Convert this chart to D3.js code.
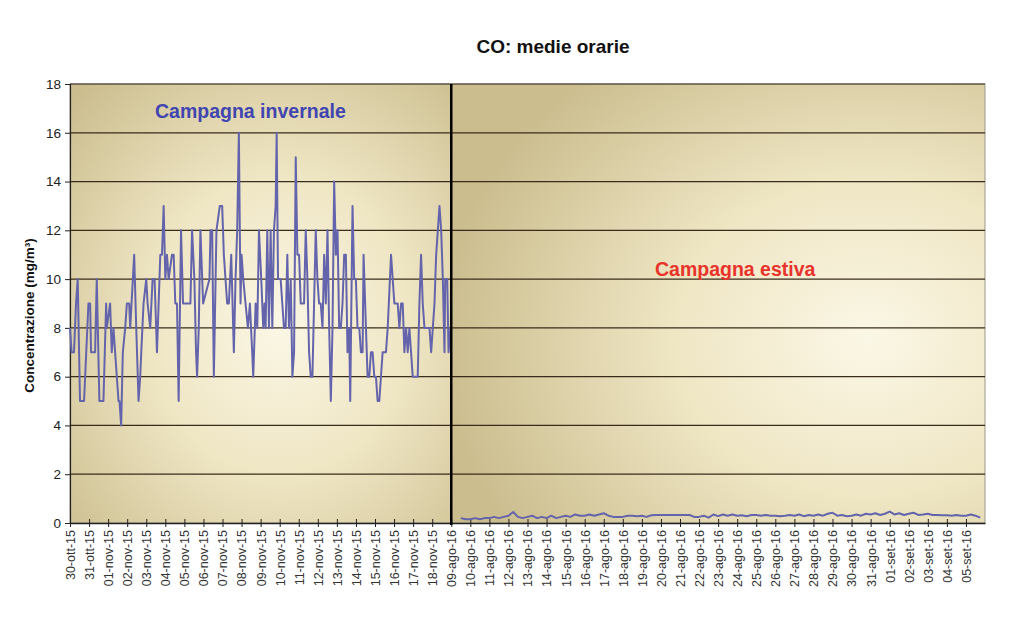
<!DOCTYPE html>
<html><head><meta charset="utf-8">
<script src="https://cdn.jsdelivr.net/npm/d3@7/dist/d3.min.js"></script>
<style>body{margin:0;background:#fff}svg{display:block}</style>
</head><body><svg id="c" width="1024" height="624"></svg>
<script>
// ---- data ----
const title = "CO: medie orarie";
const yTitle = "Concentrazione (mg/m³)";
const winterLabel = "Campagna invernale";
const summerLabel = "Campagna estiva";
const tickLabels = [
  "30-ott-15","31-ott-15","01-nov-15","02-nov-15","03-nov-15","04-nov-15","05-nov-15","06-nov-15","07-nov-15","08-nov-15",
  "09-nov-15","10-nov-15","11-nov-15","12-nov-15","13-nov-15","14-nov-15","15-nov-15","16-nov-15","17-nov-15","18-nov-15",
  "09-ago-16","10-ago-16","11-ago-16","12-ago-16","13-ago-16","14-ago-16","15-ago-16","16-ago-16","17-ago-16","18-ago-16",
  "19-ago-16","20-ago-16","21-ago-16","22-ago-16","23-ago-16","24-ago-16","25-ago-16","26-ago-16","27-ago-16","28-ago-16",
  "29-ago-16","30-ago-16","31-ago-16","01-set-16","02-set-16","03-set-16","04-set-16","05-set-16"
];
const yTicks = [0,2,4,6,8,10,12,14,16,18];
// winter campaign: hour since 30-ott-15 00:00, hourly mean (mg/m3)
const winterHour = [0,2,5,7.6,9.7,12.6,17.7,23.2,25.3,26.5,31.6,33.7,37,42.1,45.5,46.3,50.5,52.6,54.7,56.8,61.1,62.3,64.4,66.5,69.5,71.6,74.5,75.8,80.8,83.4,86.3,88.4,89.7,92.6,96,97.7,101,104,106.5,109.5,113.7,115.8,117.9,120,122.1,124.2,128.4,130.5,132.6,134.7,136.8,139.8,142.3,151.6,153.7,156.6,158.7,160,162.1,164.2,167.6,175.6,176.9,179,181.1,184.4,188.6,191.6,193.7,195.8,197.9,200,203,206.3,208.4,210.5,212.6,214.7,216,218.1,221,224,226.5,229.4,230.7,233.7,235.8,237.9,
  240.8,243.3,245,246.3,248.4,250.5,252.6,254.7,256.8,258.9,260.2,261.9,265.2,267.3,269.4,271.5,273.6,275.7,277.9,280,282.1,284.2,286.3,288.4,290.5,294.7,296.8,298.9,301,303.1,305.2,307.3,309.4,311.5,313.6,315.7,317.9,320,322.1,324.2,326.3,328.4,330.5,332.6,334.7,336.8,338.9,341,343.1,345.2,347.3,349.4,351.5,352.8,355.7,357.8,359.9,362,364.2,366.3,368.4,369.6,372.6,374.7,376.8,378.9,381,383.1,385.2,387.3,389.4,391.5,393.6,397.8,400,404.2,406.3,408.4,412.6,414.7,416.8,418.9,421,423.1,425.2,427.3,429.4,431.5,437.8,439.9,442,444.1,446.3,452.6,454.7,456.8,458.9,461,463.1,465.2,467.3,469.4,471.5,472.4,474.9,476.6,479.1];
const winterValue = [8,7,7,9,10,5,5,9,9,7,7,10,5,5,9,8,9,7,8,7,5,5,4,7,8,9,9,8,11,8,5,6,7,9,10,9,8,10,10,7,11,11,13,10,11,10,11,11,9,9,5,12,9,9,12,10,7,6,8,12,9,10,12,12,6,12,13,13,11,10,9,9,11,7,10,12,16,9,11,10,9,8,9,7,6,9,8,12,
  10,8,9,8,12,8,12,8,12,13,16,10,10,9,8,8,11,8,10,6,7,15,11,11,9,9,12,10,7,6,6,9,12,10,9,9,8,11,9,12,8,5,8,14,11,12,8,8,9,11,11,7,8,5,13,10,10,8,8,7,7,11,8,6,6,7,7,6,6,5,5,6,7,7,8,11,10,9,9,8,9,9,7,8,7,8,7,6,6,9,11,9,8,8,7,8,9,11,12,13,12,10,7,10,10,7,8];
// summer campaign: 6-hourly readings from 09-ago-16 12:00
const summerValue = [
  0.2,0.15,
  0.15,0.2,0.15,0.2,
  0.2,0.25,0.2,0.25,
  0.3,0.45,0.25,0.2,
  0.25,0.3,0.2,0.25,
  0.2,0.3,0.2,0.25,
  0.3,0.25,0.35,0.3,
  0.3,0.35,0.3,0.35,
  0.4,0.3,0.25,0.25,
  0.25,0.3,0.3,0.28,
  0.3,0.25,0.32,0.33,
  0.33,0.33,0.33,0.33,
  0.33,0.33,0.33,0.25,
  0.25,0.3,0.22,0.35,
  0.28,0.35,0.3,0.35,
  0.3,0.32,0.28,0.33,
  0.33,0.3,0.33,0.3,
  0.3,0.28,0.3,0.33,
  0.3,0.35,0.28,0.33,
  0.3,0.35,0.3,0.38,
  0.42,0.3,0.33,0.28,
  0.3,0.35,0.3,0.38,
  0.35,0.4,0.33,0.38,
  0.47,0.35,0.4,0.33,
  0.38,0.42,0.33,0.35,
  0.38,0.33,0.33,0.32,
  0.32,0.3,0.33,0.3,
  0.3,0.35,0.3,0.22
];
const winterDays = 20, totalDays = tickLabels.length, hoursPerDay = 24;

// ---- layout ----
const L = 70, R = 985, T = 84, B = 523;
const FONT = "Liberation Sans, Arial, sans-serif";
const svg = d3.select("#c");
const x = d3.scaleLinear().domain([0, totalDays * hoursPerDay]).range([L, R]);
const y = d3.scaleLinear().domain([0, 18]).range([B, T]);
const sepH = winterDays * hoursPerDay;

const defs = svg.append("defs");
function radial(id, cx, cy, r) {
  const g = defs.append("radialGradient").attr("id", id)
    .attr("cx", cx).attr("cy", cy).attr("r", r).attr("fx", cx).attr("fy", cy);
  g.append("stop").attr("offset", "0%").attr("stop-color", "#fbf7e6");
  g.append("stop").attr("offset", "45%").attr("stop-color", "#efe6c4");
  g.append("stop").attr("offset", "100%").attr("stop-color", "#cbbd8e");
}
radial("gw", "55%", "55%", "75%");
radial("gs", "78%", "58%", "80%");

svg.append("rect").attr("x", x(0)).attr("y", T).attr("width", x(sepH) - x(0)).attr("height", B - T).attr("fill", "url(#gw)");
svg.append("rect").attr("x", x(sepH)).attr("y", T).attr("width", x(totalDays * hoursPerDay) - x(sepH)).attr("height", B - T).attr("fill", "url(#gs)");
svg.append("rect").attr("x", L).attr("y", T).attr("width", R - L).attr("height", B - T)
  .attr("fill", "none").attr("stroke", "#9a9a8a").attr("stroke-width", 1);

// gridlines
svg.append("g").selectAll("line").data(yTicks.filter(d => d > 0)).join("line")
  .attr("x1", L).attr("x2", R).attr("y1", d => y(d)).attr("y2", d => y(d))
  .attr("stroke", "#3a2c1c").attr("stroke-width", 1.2);

// y axis
const ya = svg.append("g").attr("transform", `translate(${L},0)`)
  .call(d3.axisLeft(y).tickValues(yTicks).tickSize(5).tickPadding(4).tickFormat(d3.format("d")));
ya.select(".domain").attr("stroke", "#222").attr("stroke-width", 1.2);
ya.selectAll(".tick line").attr("stroke", "#222");
ya.selectAll("text").attr("font-family", FONT).attr("font-size", 13.5).attr("fill", "#222");

// x axis
const xa = svg.append("g").attr("transform", `translate(0,${B})`)
  .call(d3.axisBottom(x).tickValues(d3.range(totalDays).map(i => i * hoursPerDay))
    .tickSize(0).tickFormat((d, i) => tickLabels[i]));
xa.select(".domain").attr("stroke", "#222").attr("stroke-width", 1.4);
xa.selectAll(".tick").append("line").attr("y1", -4).attr("y2", 4).attr("stroke", "#222");
xa.selectAll(".tick text")
  .attr("font-family", FONT).attr("font-size", 12.5).attr("fill", "#333")
  .attr("transform", "rotate(-90)").attr("text-anchor", "end").attr("x", -7).attr("y", 0).attr("dy", "0.35em");

// lines
const line = d3.line().x(d => x(d[0])).y(d => y(d[1]));
const winter = winterHour.map((h, i) => [h, winterValue[i]]);
const summer = summerValue.map((v, i) => [sepH + 12 + i * 6, v]);
svg.append("path").datum(winter).attr("d", line).attr("fill", "none")
  .attr("stroke", "#6464ac").attr("stroke-width", 2).attr("stroke-linejoin", "round");
svg.append("path").datum(summer).attr("d", line).attr("fill", "none")
  .attr("stroke", "#6464ac").attr("stroke-width", 2).attr("stroke-linejoin", "round");

// separator
svg.append("line").attr("x1", x(sepH)).attr("x2", x(sepH)).attr("y1", T).attr("y2", B + 2)
  .attr("stroke", "#000").attr("stroke-width", 2.5);

// texts
svg.append("text").attr("x", 553).attr("y", 53).attr("text-anchor", "middle")
  .attr("font-family", FONT).attr("font-weight", "bold").attr("font-size", 19)
  .attr("fill", "#111").text(title);
svg.append("text").attr("transform", `translate(34,${(T + B) / 2 + 12}) rotate(-90)`).attr("text-anchor", "middle")
  .attr("font-family", FONT).attr("font-weight", "bold").attr("font-size", 13.5)
  .attr("fill", "#111").text(yTitle);
svg.append("text").attr("x", 155).attr("y", 118)
  .attr("font-family", FONT).attr("font-weight", "bold").attr("font-size", 19.5)
  .attr("fill", "#4045b0").text(winterLabel);
svg.append("text").attr("x", 655).attr("y", 276)
  .attr("font-family", FONT).attr("font-weight", "bold").attr("font-size", 19.5)
  .attr("fill", "#e8332a").text(summerLabel);
</script>
</body></html>
